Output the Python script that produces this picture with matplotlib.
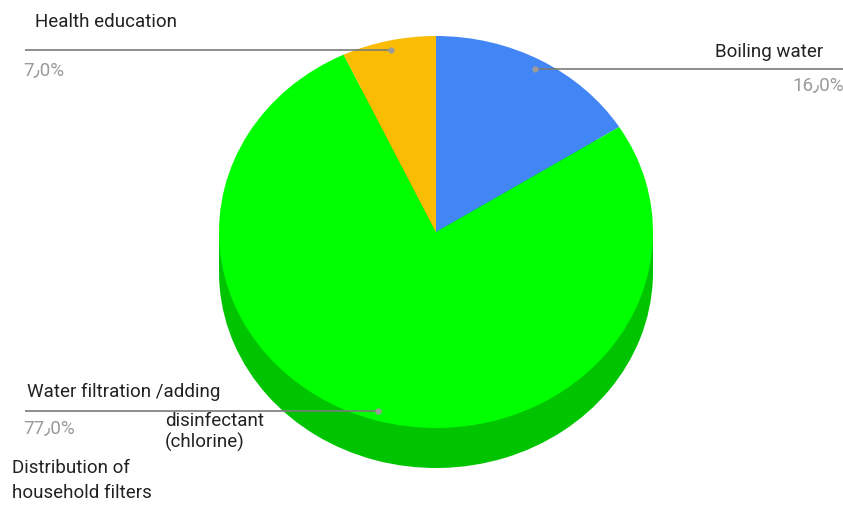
import numpy as np
import matplotlib
matplotlib.use("Agg")
import matplotlib.pyplot as plt
from matplotlib.patches import Rectangle

# slice data, clockwise from 12 o'clock
labels = ["Boiling water", "Water filtration", "Health education"]
values = [16.0, 77.0, 7.0]
pct_text = ["16٫0%", "77٫0%", "7٫0%"]
colors = ["#4285f4", "#00ff00", "#fbbc04"]
side_colors = ["#2f66c8", "#00c400", "#d09a00"]

W, H = 843, 506
fig = plt.figure(figsize=(W / 100, H / 100), dpi=100)

# elliptical top face: centre (436, 233), rx 217, ry 196, depth 40 (px)
cx, cy, rx, ry, depth = 436, 233, 217, 196, 40
d = depth / ry
pie_ax = fig.add_axes([(cx - rx) / W, (H - (cy + ry + depth)) / H,
                       2 * rx / W, (2 * ry + depth) / H])

# side of the disc first, then the top
pie_ax.pie(values, colors=side_colors, startangle=90, counterclock=False,
           center=(0, -d), radius=1, wedgeprops=dict(linewidth=0))
pie_ax.add_patch(Rectangle((-1, -d), 2, d, color=side_colors[1], lw=0))
pie_ax.pie(values, colors=colors, startangle=90, counterclock=False,
           center=(0, 0), radius=1, wedgeprops=dict(linewidth=0))
pie_ax.set_aspect("auto")
pie_ax.set_xlim(-1, 1)
pie_ax.set_ylim(-1 - d, 1)
pie_ax.axis("off")

# overlay in pixel coordinates for leader lines and labels
ov = fig.add_axes([0, 0, 1, 1])
ov.set_xlim(0, W)
ov.set_ylim(H, 0)
ov.axis("off")
ov.patch.set_alpha(0)

font = ["Roboto", "DejaVu Sans"]
dark = "#222222"
grey = "#9a9a9a"
fs = 13.5

# mid-angle anchor point on each slice
frac = np.array(values) / sum(values)
starts = np.concatenate([[0], np.cumsum(frac)[:-1]]) * 360
mids = starts + frac * 180
anchors = []
for m in mids:
    a = np.deg2rad(m)
    p = pie_ax.transData.transform((0.95 * np.sin(a), 0.95 * np.cos(a)))
    anchors.append(ov.transData.inverted().transform(p))

line_kw = dict(color="#7a7a7a", lw=1.2, solid_capstyle="butt")
dot_kw = dict(marker="o", ms=4.5, color="#9a9a9a", mec="none")


def txt(x, y, s, color=dark, ha="left", **kw):
    ov.text(x, y, s, ha=ha, va="center", fontsize=fs, color=color,
            family=font, **kw)


# Boiling water (right side)
bx, by = anchors[0]
ov.plot([bx, W], [by, by], **line_kw)
ov.plot(bx, by, **dot_kw)
txt(823, by - 18, labels[0], ha="right")
txt(W + 1, by + 16, pct_text[0], color=grey, ha="right")

# Health education (top left)
hx, hy = anchors[2]
ov.plot([25, hx], [hy, hy], **line_kw)
ov.plot(hx, hy, **dot_kw)
txt(35, hy - 29, labels[2])
txt(23, hy + 20, pct_text[2], color=grey)

# Water filtration (bottom left)
gx, gy = anchors[1]
ov.plot([25, gx], [gy, gy], **line_kw)
ov.plot(gx, gy, **dot_kw)
txt(27, gy - 20, "Water filtration /adding")
txt(165, gy + 9, "disinfectant")
txt(165, gy + 31, "(chlorine)")
txt(23, gy + 17, pct_text[1], color=grey)
txt(12, 468, "Distribution of")
txt(12, 493, "household filters")

fig.savefig("out.png", dpi=100, facecolor="white")
